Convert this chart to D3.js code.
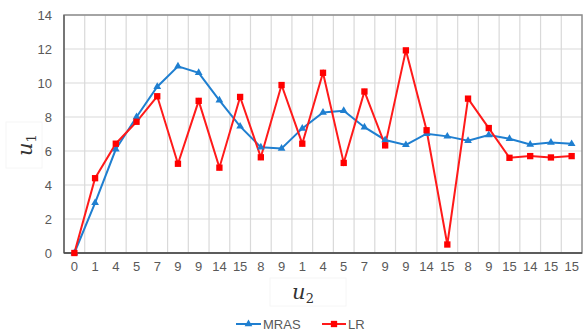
<!DOCTYPE html>
<html>
<head>
<meta charset="utf-8">
<script src="https://cdn.jsdelivr.net/npm/d3@7"></script>
<style>
  body { margin: 0; background: #fff; }
  text { font-family: "Liberation Sans", Arial, sans-serif; }
</style>
</head>
<body>
<svg id="chart" width="585" height="334"></svg>
<script>
// tick labels along the bottom (one per sample)
var xLabels = ["0","1","4","5","7","9","9","14","15","8","9","1","4","5","7","9","9","14","15","8","9","15","14","15","15"];
var mras = [0, 2.95, 6.1, 8.0, 9.78, 10.98, 10.6, 8.98, 7.45, 6.22, 6.15, 7.33, 8.27, 8.37, 7.4, 6.65, 6.36, 7.02, 6.86, 6.6, 6.94, 6.72, 6.38, 6.5, 6.42];
var lr   = [0, 4.4, 6.43, 7.72, 9.22, 5.25, 8.95, 5.02, 9.18, 5.63, 9.88, 6.43, 10.6, 5.3, 9.5, 6.33, 11.92, 7.22, 0.5, 9.08, 7.35, 5.6, 5.7, 5.62, 5.7];
var yTicks = [0, 2, 4, 6, 8, 10, 12, 14];

var svg = d3.select("#chart");
var pLeft = 64, pRight = 582, pTop = 15, pBottom = 253;

var idx = d3.range(xLabels.length);
var xScale = d3.scaleBand().domain(idx).range([pLeft, pRight]).padding(0);
var yScale = d3.scaleLinear().domain([0, 14]).range([pBottom, pTop]);
var cx = function(i){ return xScale(i) + xScale.bandwidth()/2; };

// grid
var grid = svg.append("g");
grid.selectAll(".hg").data(yTicks).enter().append("line")
  .attr("x1", pLeft).attr("x2", pRight)
  .attr("y1", d => yScale(d)).attr("y2", d => yScale(d))
  .attr("stroke", "#d9d9d9").attr("stroke-width", 1.2);
grid.selectAll(".vg").data(idx.slice(1)).enter().append("line")
  .attr("x1", d => xScale(d)).attr("x2", d => xScale(d))
  .attr("y1", pTop).attr("y2", pBottom)
  .attr("stroke", "#d9d9d9").attr("stroke-width", 1.2);

// frame
svg.append("rect").attr("x", pLeft).attr("y", pTop)
  .attr("width", pRight - pLeft).attr("height", pBottom - pTop)
  .attr("fill", "none").attr("stroke", "#8c8c8c").attr("stroke-width", 1.5);
svg.append("line").attr("x1", pLeft).attr("x2", pLeft).attr("y1", pTop).attr("y2", pBottom)
  .attr("stroke", "#666").attr("stroke-width", 1.5);
svg.append("line").attr("x1", pLeft).attr("x2", pRight).attr("y1", pBottom).attr("y2", pBottom)
  .attr("stroke", "#444").attr("stroke-width", 1.5);

// axes
var yAxis = svg.append("g").attr("transform", "translate(" + pLeft + ",0)")
  .call(d3.axisLeft(yScale).tickValues(yTicks).tickSize(0).tickPadding(12));
var xAxis = svg.append("g").attr("transform", "translate(0," + pBottom + ")")
  .call(d3.axisBottom(xScale).tickFormat(i => xLabels[i]).tickSize(0).tickPadding(9));
[yAxis, xAxis].forEach(function(a){
  a.select(".domain").remove();
  a.selectAll("text").attr("fill", "#595959").style("font-size", "13px")
    .style("font-family", "'Liberation Sans', Arial, sans-serif");
});

// axis titles
svg.append("rect").attr("x", 6).attr("y", 122).attr("width", 36).attr("height", 46)
  .attr("fill", "none").attr("stroke", "#f6f6f6");
svg.append("text")
  .attr("transform", "translate(32,145) rotate(-90)")
  .attr("text-anchor", "middle")
  .style("font-family", "'DejaVu Serif', 'Liberation Serif', serif").style("font-style", "italic")
  .style("font-size", "21px").attr("fill", "#333")
  .text("u").append("tspan").attr("dy", 4).style("font-size", "13px").style("font-style", "normal").text("1");
svg.append("rect").attr("x", 270).attr("y", 278).attr("width", 76).attr("height", 28)
  .attr("fill", "none").attr("stroke", "#f6f6f6");
svg.append("text")
  .attr("x", 303).attr("y", 299).attr("text-anchor", "middle")
  .style("font-family", "'DejaVu Serif', 'Liberation Serif', serif").style("font-style", "italic")
  .style("font-size", "21px").attr("fill", "#333")
  .text("u").append("tspan").attr("dy", 4).style("font-size", "13px").style("font-style", "normal").text("2");

// series
var line = d3.line().x((d, i) => cx(i)).y(d => yScale(d));
var tri = d3.symbol().type(d3.symbolTriangle).size(26);
var sq = d3.symbol().type(d3.symbolSquare).size(40);

svg.append("path").datum(mras).attr("d", line)
  .attr("fill", "none").attr("stroke", "#1f7fd0").attr("stroke-width", 2);
svg.append("path").datum(lr).attr("d", line)
  .attr("fill", "none").attr("stroke", "#ff1a1a").attr("stroke-width", 2);
svg.selectAll(".m").data(mras).enter().append("path")
  .attr("d", tri).attr("fill", "#1f7fd0")
  .attr("transform", (d, i) => "translate(" + cx(i) + "," + yScale(d) + ")");
svg.selectAll(".l").data(lr).enter().append("path")
  .attr("d", sq).attr("fill", "#ff0000")
  .attr("transform", (d, i) => "translate(" + cx(i) + "," + yScale(d) + ")");

// legend
var lg = svg.append("g").attr("transform", "translate(0,324)");
lg.append("line").attr("x1", 236).attr("x2", 261).attr("stroke", "#1f7fd0").attr("stroke-width", 2);
lg.append("path").attr("d", tri).attr("fill", "#1f7fd0").attr("transform", "translate(248.5,0)");
lg.append("text").attr("x", 263).attr("y", 5).attr("fill", "#595959").style("font-size", "13px").text("MRAS");
lg.append("line").attr("x1", 322).attr("x2", 346).attr("stroke", "#ff1a1a").attr("stroke-width", 2);
lg.append("path").attr("d", sq).attr("fill", "#ff0000").attr("transform", "translate(334,0)");
lg.append("text").attr("x", 348).attr("y", 5).attr("fill", "#595959").style("font-size", "13px").text("LR");
</script>
</body>
</html>
